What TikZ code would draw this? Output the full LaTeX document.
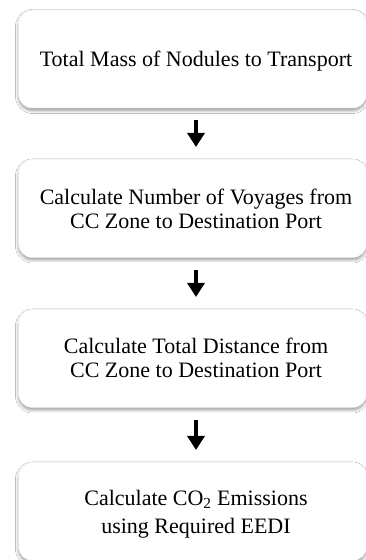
\documentclass[tikz,border=0pt]{standalone}
\usepackage{fontspec}
\setmainfont{Liberation Serif}
\usetikzlibrary{arrows.meta,shadows.blur}
\tikzset{
  stepbox/.style={rectangle, rounded corners=14pt, minimum width=348pt,
    minimum height=98pt, inner sep=0pt, outer sep=0pt, fill=white,
    draw=black!6, line width=0.5pt,
    blur shadow={shadow xshift=0pt, shadow yshift=-2.5pt, shadow blur radius=3pt,
      shadow blur steps=8, shadow opacity=40}},
  steptext/.style={align=center, inner sep=0pt, outer sep=0pt,
    font=\fontsize{22}{24}\selectfont},
  flowarrow/.style={line width=3.2pt, -{Triangle[width=17pt,length=14pt]},
    shorten <=12.5pt, shorten >=12.5pt}
}
\begin{document}
\begin{tikzpicture}[x=1pt,y=1pt]
\useasboundingbox (0,0) rectangle (366,560);
\fill[white] (0,0) rectangle (366,560);
\node[stepbox] (b1) at (192.5,501) {};
\node[stepbox] (b2) at (192.5,351.5) {};
\node[stepbox] (b3) at (192.5,201.5) {};
\node[stepbox] (b4) at (192.5,48.5) {};
\node[steptext] (t1) at (196,498.4) {Total Mass of Nodules to Transport};
\node[steptext] (t2) at (196,351.5) {Calculate Number of Voyages from\\CC Zone to Destination Port};
\node[steptext] (t3) at (196,201.7) {Calculate Total Distance from\\CC Zone to Destination Port};
\node[steptext] (t4) at (196,46.1) {Calculate CO\textsubscript{2} Emissions\\[4pt]using Required EEDI};
\draw[flowarrow] (b1.south -| t1) -- (b2.north -| t2);
\draw[flowarrow] (b2.south -| t2) -- (b3.north -| t3);
\draw[flowarrow] (b3.south -| t3) -- (b4.north -| t4);
\end{tikzpicture}
\end{document}
